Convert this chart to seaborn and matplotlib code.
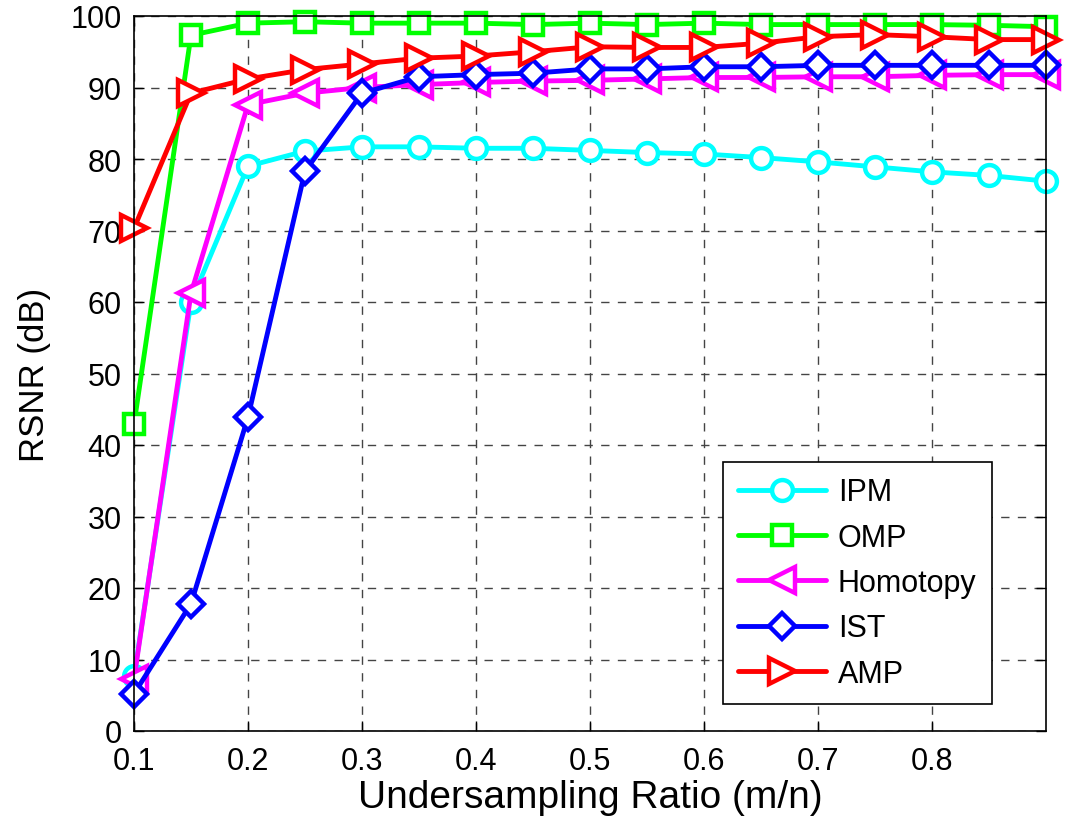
import numpy as np
import pandas as pd
import matplotlib
matplotlib.use("Agg")
import matplotlib.pyplot as plt
import seaborn as sns

ratio = [0.10, 0.15, 0.20, 0.25, 0.30, 0.35, 0.40, 0.45, 0.50, 0.55, 0.60,
         0.65, 0.70, 0.75, 0.80, 0.85, 0.90]
ipm = [7.7, 60.0, 79.0, 81.1, 81.7, 81.7, 81.5, 81.5, 81.2, 80.9, 80.7,
       80.2, 79.6, 78.9, 78.2, 77.7, 76.9]
omp = [42.9, 97.3, 99.0, 99.2, 99.0, 99.0, 99.0, 98.8, 99.0, 98.8, 99.0,
       98.8, 98.8, 98.8, 98.8, 98.7, 98.5]
homotopy = [7.3, 61.2, 87.6, 89.2, 90.0, 90.4, 90.7, 90.9, 91.0, 91.2, 91.4,
            91.4, 91.5, 91.5, 91.7, 91.8, 91.8]
ist = [5.2, 17.8, 43.9, 78.3, 89.2, 91.5, 91.8, 92.0, 92.6, 92.6, 92.9,
       92.9, 93.1, 93.1, 93.1, 93.1, 93.1]
amp = [70.3, 89.2, 91.2, 92.5, 93.3, 94.1, 94.4, 95.0, 95.7, 95.6, 95.6,
       96.2, 97.1, 97.4, 97.1, 96.7, 96.7]

series_names = ["IPM", "OMP", "Homotopy", "IST", "AMP"]
series_vals = [ipm, omp, homotopy, ist, amp]
colors = ["#00FFFF", "#00FF00", "#FF00FF", "#0000FF", "#FF0000"]
markers = ["o", "s", "<", "D", ">"]
msizes = [15, 14, 19, 13, 19]

xticks = [0.1, 0.2, 0.3, 0.4, 0.5, 0.6, 0.7, 0.8]
yticks = list(range(0, 101, 10))

sns.set_style("ticks")
plt.rcParams["font.family"] = ["Liberation Sans", "DejaVu Sans"]
plt.rcParams["text.color"] = "black"
plt.rcParams["axes.labelcolor"] = "black"
plt.rcParams["xtick.color"] = "black"
plt.rcParams["ytick.color"] = "black"

fig = plt.figure(figsize=(10.65, 8.29), dpi=100)
ax = fig.add_axes([134 / 1065, 1 - 732 / 829, (1046 - 134) / 1065, (732 - 17) / 829])

for name, vals, c, m, ms in zip(series_names, series_vals, colors, markers, msizes):
    sns.lineplot(x=ratio, y=vals, ax=ax, color=c, marker=m, markersize=ms,
                 markerfacecolor="white", markeredgecolor=c, markeredgewidth=3.2,
                 linewidth=3.5, label=name, clip_on=False)

ax.set_xlim(0.1, 0.9)
ax.set_ylim(0, 100)
ax.set_xticks(xticks)
ax.set_xticklabels([f"{t:.1f}" for t in xticks])
ax.set_yticks(yticks)
ax.tick_params(direction="in", length=7, width=1, labelsize=22, top=True, right=True,
               colors="black")
ax.tick_params(axis="x", pad=11)
ax.tick_params(axis="y", pad=9)
for s in ax.spines.values():
    s.set_linewidth(1.2)
    s.set_color("black")
ax.grid(True, color="#444444", linestyle=(0, (6, 6)), linewidth=1.0)
ax.set_xlabel("Undersampling Ratio (m/n)", fontsize=28, labelpad=2)
ax.set_ylabel("RSNR (dB)", fontsize=25, labelpad=14)

leg = ax.legend(loc="upper left", bbox_to_anchor=(0.646, 0.376), fontsize=22,
                fancybox=False, framealpha=1, edgecolor="black", handlelength=2.85,
                handletextpad=0.4, labelspacing=0.5, borderpad=0.5,
                borderaxespad=0)
leg.get_frame().set_linewidth(1.2)

fig.savefig("out.png", dpi=100)
